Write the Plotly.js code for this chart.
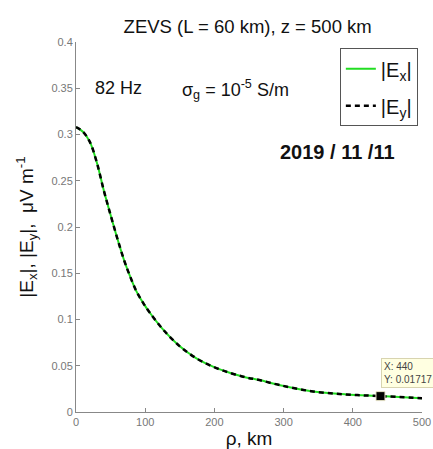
<!DOCTYPE html>
<html>
<head>
<meta charset="utf-8">
<script src="https://cdn.plot.ly/plotly-3.0.1.min.js"></script>
<style>html,body{margin:0;padding:0;background:#fff;}#chart{width:433px;height:449px;}</style>
</head>
<body>
<div id="chart"></div>
<script>
// rho, km
var rho = [0, 10, 20, 30, 40, 50, 60, 70, 78, 87, 97, 107, 126, 150, 174, 198, 222, 246, 265, 295, 340, 390, 440, 500];
// |Ex|, uV/m
var absEx = [0.308, 0.303, 0.292, 0.270, 0.240, 0.213, 0.187, 0.163, 0.147, 0.131, 0.118, 0.107, 0.089, 0.071, 0.058, 0.049, 0.0424, 0.0374, 0.0345, 0.029, 0.0225, 0.019, 0.01717, 0.015];
// |Ey|, uV/m
var absEy = [0.308, 0.303, 0.292, 0.270, 0.240, 0.213, 0.187, 0.163, 0.147, 0.131, 0.118, 0.107, 0.089, 0.071, 0.058, 0.049, 0.0424, 0.0374, 0.0345, 0.029, 0.0225, 0.019, 0.01717, 0.015];
// data tip
var tipX = [440];
var tipY = [0.01717];
var xTicks = [0, 100, 200, 300, 400, 500];
var yTicks = [0, 0.05, 0.1, 0.15, 0.2, 0.25, 0.3, 0.35, 0.4];

var font = 'Liberation Sans, Arial, sans-serif';
var traces = [
  {x: rho, y: absEx, mode: 'lines', name: '|E<sub>x</sub>|', legendgroup: 'a', line: {color: '#22dd22', width: 2, shape: 'spline', smoothing: 1}},
  {x: rho, y: absEy, mode: 'lines', name: '|E<sub>y</sub>|', legendgroup: 'b', line: {color: '#000000', width: 2.5, dash: '5px,4px', shape: 'spline', smoothing: 1}},
  {x: tipX, y: tipY, mode: 'markers', showlegend: false, marker: {symbol: 'square', size: 9, color: '#000', line: {color: '#e8e4c8', width: 1}}}
];
var layout = {
  width: 433, height: 449,
  margin: {l: 76, r: 11, t: 42, b: 37},
  paper_bgcolor: '#fff', plot_bgcolor: '#fff',
  font: {family: font, color: '#000'},
  showlegend: true,
  title: {text: 'ZEVS (L = 60 km), z = 500 km', font: {size: 18.5, color: '#111'}, x: 0.572, xref: 'container', xanchor: 'center', y: 0.94, yanchor: 'middle'},
  xaxis: {range: [0, 500], tickvals: xTicks, ticks: 'inside', ticklen: 4, tickcolor: '#888',
    showline: true, linecolor: '#888', linewidth: 1, showgrid: false, zeroline: false,
    tickfont: {size: 11, color: '#777'},
    title: {text: 'ρ, km', font: {size: 19, color: '#111'}, standoff: 4}},
  yaxis: {range: [0, 0.4], tickvals: yTicks, ticks: 'inside', ticklen: 4, tickcolor: '#888',
    showline: true, linecolor: '#888', linewidth: 1, showgrid: false, zeroline: false,
    tickfont: {size: 11, color: '#777'},
    title: {text: '|E<sub>x</sub>|, |E<sub>y</sub>|,  μV m<sup>-1</sup>', font: {size: 19, color: '#111'}, standoff: 12}},
  legend: {x: 0.988, xanchor: 'right', y: 0.983, yanchor: 'top', bgcolor: '#fff', bordercolor: '#555', borderwidth: 1,
    font: {size: 20, color: '#111'}, itemwidth: 30, tracegroupgap: 8},
  annotations: [
    {xref: 'paper', yref: 'paper', x: 0.049, y: 0.876, xanchor: 'left', yanchor: 'middle', text: '82 Hz', showarrow: false, font: {size: 18, color: '#111'}},
    {xref: 'paper', yref: 'paper', x: 0.30, y: 0.872, xanchor: 'left', yanchor: 'middle', text: 'σ<sub>g</sub> = 10<sup>-5</sup> S/m', showarrow: false, font: {size: 18, color: '#111'}},
    {xref: 'paper', yref: 'paper', x: 0.757, y: 0.704, xanchor: 'center', yanchor: 'middle', text: '<b>2019 / 11 /11</b>', showarrow: false, font: {size: 20, color: '#111'}},
    {xref: 'x', yref: 'y', x: tipX[0], y: tipY[0], xanchor: 'left', yanchor: 'bottom', xshift: 1, yshift: 8, align: 'left',
      text: 'X: 440<br>Y: 0.01717', showarrow: false, bgcolor: '#ffffe1', bordercolor: '#d8d4b0', borderwidth: 1, borderpad: 2,
      font: {size: 10, color: '#444'}}
  ]
};
Plotly.newPlot('chart', traces, layout, {displayModeBar: false, staticPlot: true});
</script>
</body>
</html>
